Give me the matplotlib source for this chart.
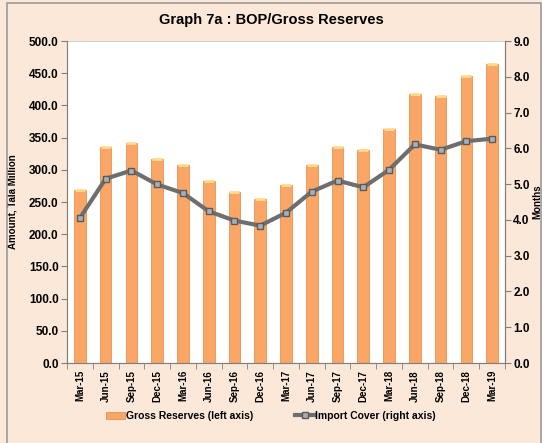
import matplotlib
matplotlib.use("Agg")
import matplotlib.pyplot as plt
import numpy as np

plt.rcParams["font.family"] = ["Liberation Sans", "DejaVu Sans"]
plt.rcParams["font.weight"] = "bold"

quarters = ["Mar-15", "Jun-15", "Sep-15", "Dec-15", "Mar-16", "Jun-16", "Sep-16",
            "Dec-16", "Mar-17", "Jun-17", "Sep-17", "Dec-17", "Mar-18", "Jun-18",
            "Sep-18", "Dec-18", "Mar-19"]
gross_reserves = [268, 335, 342, 317, 308, 283, 265, 255, 276, 308, 336, 330,
                  363, 418, 414, 446, 464]
import_cover = [4.05, 5.15, 5.38, 4.99, 4.75, 4.24, 3.98, 3.84, 4.20, 4.79, 5.10,
                4.91, 5.40, 6.11, 5.96, 6.20, 6.27]

W, H = 542, 443
bg = "#FCE8D8"
fig = plt.figure(figsize=(W / 100, H / 100), dpi=100, facecolor=bg)
# outer border
fig.patches.append(plt.Rectangle((7 / W, -0.01), (W - 8) / W, 1 - 3 / H + 0.01,
                                 transform=fig.transFigure, fill=False,
                                 edgecolor="#9a9a9a", lw=1.2))

ax = fig.add_axes([67 / W, 1 - 363 / H, 438 / W, 322 / H])
ax.set_facecolor("white")
x = np.arange(len(quarters))

ax.bar(x, gross_reserves, width=0.45, color="#FAA666", edgecolor="#E89250",
       lw=0.6, zorder=2, label="Gross Reserves (left axis)")
# lighter tops to mimic the cylinder caps
ax.scatter(x, gross_reserves, marker="_", s=45, color="#FFDB92", lw=2, zorder=3)

ax.set_ylim(0, 500)
ax.set_yticks(np.arange(0, 501, 50))
ax.set_yticklabels(["%.1f" % v for v in np.arange(0, 501, 50)], fontsize=8.5, fontweight="bold")
ax.set_xlim(-0.5, len(quarters) - 0.5)
ax.set_xticks(x)
ax.set_xticklabels(quarters, rotation=90, fontsize=7, fontweight="bold")
ax.set_xticks(np.arange(-0.5, len(quarters), 1), minor=True)
ax.tick_params(axis="x", which="major", length=0, pad=5)
ax.tick_params(axis="x", which="minor", length=4, color="#808080")
ax.tick_params(axis="y", length=4, color="#808080", pad=2)
ax.set_ylabel("Amount, Tala Million", fontsize=7, fontweight="bold")
ax.yaxis.set_label_coords(-49 / 438, 0.5)
for s in ax.spines.values():
    s.set_color("#808080")
ax.spines["top"].set_color("#C8C8C8")
ax.spines["top"].set_linewidth(0.6)

ax2 = ax.twinx()
ax2.plot(x, import_cover, color="#6E6E6E", lw=3, marker="s", markersize=5,
         markerfacecolor="#A6B0B8", markeredgecolor="#5A5A5A", markeredgewidth=1,
         zorder=4, label="Import Cover (right axis)")
ax2.set_ylim(0, 9)
ax2.set_yticks(np.arange(0, 9.1, 1))
ax2.set_yticklabels(["%.1f" % v for v in np.arange(0, 9.1, 1)], fontsize=8.5, fontweight="bold")
ax2.tick_params(axis="y", length=4, color="#808080", pad=2)
ax2.set_ylabel("Months", fontsize=7, fontweight="bold")
ax2.yaxis.set_label_coords(1 + 27 / 438, 0.5)
for s in ax2.spines.values():
    s.set_color("#808080")
ax2.spines["top"].set_visible(False)

fig.text(0.5, 1 - 20 / H, "Graph 7a : BOP/Gross Reserves", ha="center", va="center",
         fontsize=10.5, fontweight="bold")

h1, l1 = ax.get_legend_handles_labels()
h2, l2 = ax2.get_legend_handles_labels()
fig.legend(h1 + h2, l1 + l2, loc="center", bbox_to_anchor=(0.5, 1 - 416 / H), ncol=2,
           frameon=False, handlelength=1.8, handletextpad=0.1, columnspacing=4,
           prop={"weight": "bold", "size": 7.5})

fig.savefig("out.png", dpi=100, facecolor=bg)
